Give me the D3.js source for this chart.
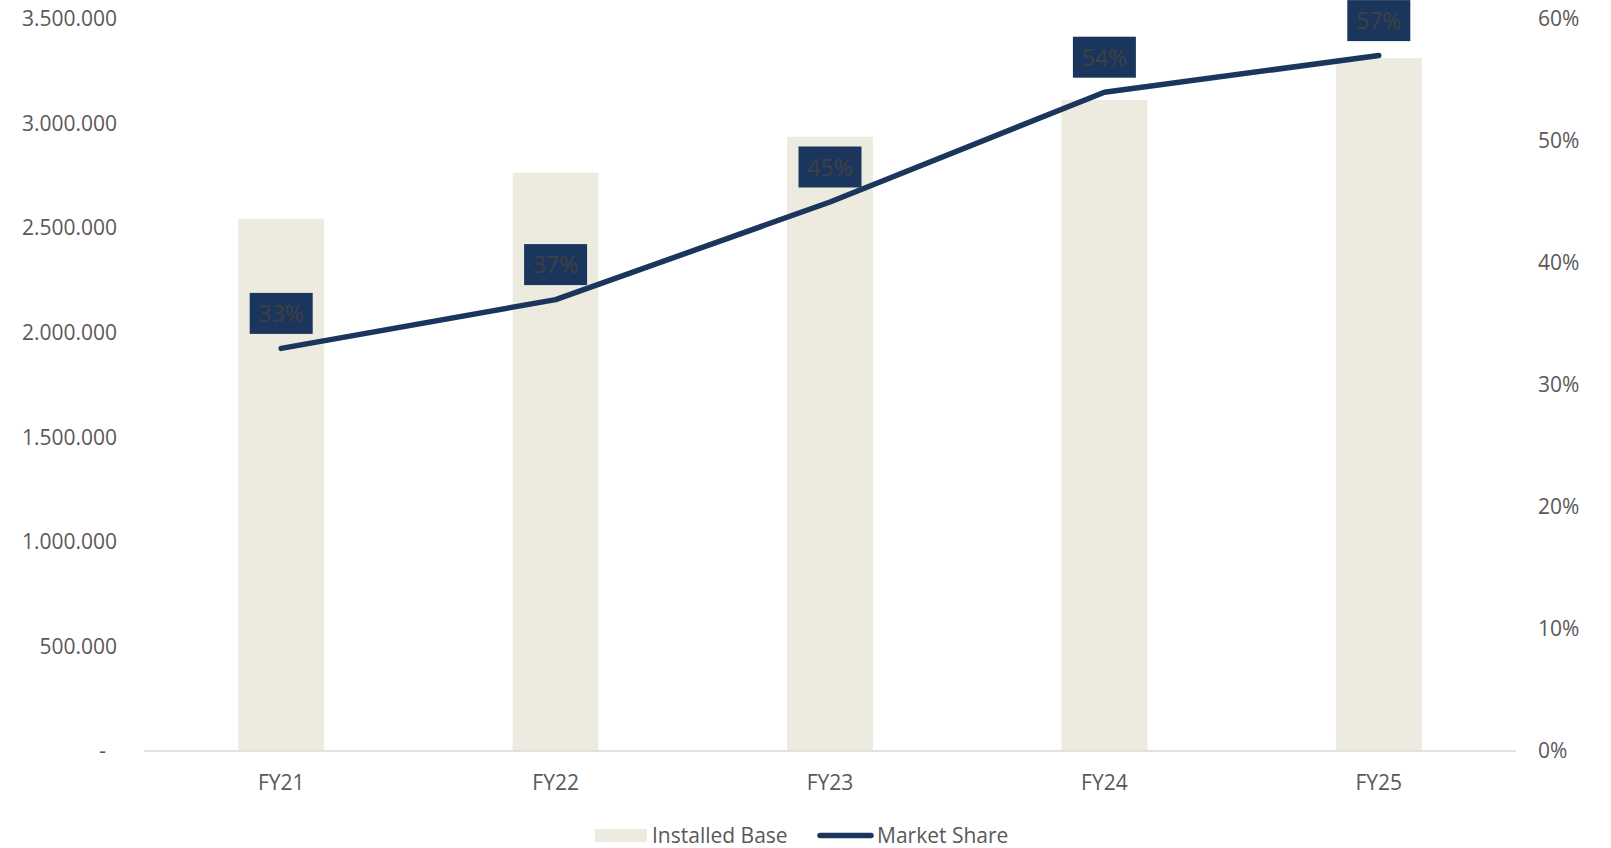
<!DOCTYPE html>
<html>
<head>
<meta charset="utf-8">
<script src="https://cdn.jsdelivr.net/npm/d3@7"></script>
<style>
  html, body { margin: 0; padding: 0; background: #ffffff; }
  svg { display: block; font-family: "Open Sans", "Noto Sans", sans-serif; }
</style>
</head>
<body>
<svg id="chart" width="1611" height="848"></svg>
<script>
// ---- data ----
const categories = ["FY21", "FY22", "FY23", "FY24", "FY25"];
const installedBase = [2545000, 2765000, 2937000, 3113000, 3313000];
const marketShare = [0.33, 0.37, 0.45, 0.54, 0.57];
const leftTicks = [0, 500000, 1000000, 1500000, 2000000, 2500000, 3000000, 3500000];
const rightTicks = [0, 0.1, 0.2, 0.3, 0.4, 0.5, 0.6];
const seriesNames = ["Installed Base", "Market Share"];

// ---- layout ----
const W = 1611, H = 848;
const plot = { left: 144, right: 1516, top: 19, bottom: 751 };
const barColor = "#edebe0";
const lineColor = "#1b365d";
const textColor = "#595959";
const fontSize = 21;

const svg = d3.select("#chart");

const x = d3.scaleBand().domain(categories).range([plot.left, plot.right]).padding(0);
const yL = d3.scaleLinear().domain([0, 3500000]).range([plot.bottom, plot.top]);
const yR = d3.scaleLinear().domain([0, 0.6]).range([plot.bottom, plot.top]);
const barW = x.bandwidth() * 0.313;

// bars
svg.append("g").selectAll("rect")
  .data(categories)
  .join("rect")
  .attr("x", (d) => x(d) + x.bandwidth() / 2 - barW / 2)
  .attr("y", (d, i) => yL(installedBase[i]))
  .attr("width", barW)
  .attr("height", (d, i) => yL(0) - yL(installedBase[i]))
  .attr("fill", barColor);

// baseline
svg.append("line")
  .attr("x1", plot.left).attr("x2", plot.right)
  .attr("y1", yL(0)).attr("y2", yL(0))
  .attr("stroke", "#d9d9d9").attr("stroke-width", 1.5);

// left axis
const fmtThousands = (v) => v === 0 ? "-" : d3.format(",")(v).replace(/,/g, ".");
const gL = svg.append("g")
  .attr("transform", `translate(117,0)`)
  .call(d3.axisLeft(yL).tickValues(leftTicks).tickFormat(fmtThousands).tickSize(0).tickPadding(0));
gL.select(".domain").remove();
gL.selectAll("text")
  .attr("fill", textColor)
  .style("font-size", fontSize + "px")
  .style("font-family", '"Open Sans", sans-serif')
  .attr("dx", (d) => d === 0 ? -11 : 0);

// right axis
const gR = svg.append("g")
  .attr("transform", `translate(1538,0)`)
  .call(d3.axisRight(yR).tickValues(rightTicks).tickFormat(d3.format(".0%")).tickSize(0).tickPadding(0));
gR.select(".domain").remove();
gR.selectAll("text")
  .attr("fill", textColor)
  .style("font-size", fontSize + "px")
  .style("font-family", '"Open Sans", sans-serif');

// bottom axis
const gB = svg.append("g")
  .attr("transform", `translate(0,${plot.bottom})`)
  .call(d3.axisBottom(x).tickSize(0).tickPadding(0));
gB.select(".domain").remove();
gB.selectAll("text")
  .attr("fill", textColor)
  .attr("y", 32)
  .attr("dy", "0.35em")
  .style("font-size", fontSize + "px")
  .style("font-family", '"Open Sans", sans-serif');

// line
const cx = (d) => x(d) + x.bandwidth() / 2;
const line = d3.line()
  .x((d) => cx(d))
  .y((d, i) => yR(marketShare[i]));
svg.append("path")
  .datum(categories)
  .attr("d", line)
  .attr("fill", "none")
  .attr("stroke", lineColor)
  .attr("stroke-width", 5.5)
  .attr("stroke-linecap", "round")
  .attr("stroke-linejoin", "round");

// data labels
const lblW = 63, lblH = 41, lblOff = 35;
const labels = svg.append("g").selectAll("g")
  .data(categories)
  .join("g")
  .attr("transform", (d, i) => `translate(${cx(d)},${yR(marketShare[i]) - lblOff})`);
labels.append("rect")
  .attr("x", -lblW / 2).attr("y", -lblH / 2)
  .attr("width", lblW).attr("height", lblH)
  .attr("fill", lineColor);
labels.append("text")
  .attr("text-anchor", "middle")
  .attr("dy", "0.38em")
  .attr("fill", "#404040")
  .style("font-size", "23px")
  .text((d, i) => d3.format(".0%")(marketShare[i]));

// legend
const leg = svg.append("g");
leg.append("rect")
  .attr("x", 595).attr("y", 829).attr("width", 52).attr("height", 13)
  .attr("fill", barColor);
leg.append("text")
  .attr("x", 652).attr("y", 836).attr("dy", "0.35em")
  .attr("fill", textColor).style("font-size", fontSize + "px")
  .text(seriesNames[0]);
leg.append("line")
  .attr("x1", 820).attr("x2", 871).attr("y1", 835.5).attr("y2", 835.5)
  .attr("stroke", lineColor).attr("stroke-width", 5.5).attr("stroke-linecap", "round");
leg.append("text")
  .attr("x", 877).attr("y", 836).attr("dy", "0.35em")
  .attr("fill", textColor).style("font-size", fontSize + "px")
  .text(seriesNames[1]);
</script>
</body>
</html>
